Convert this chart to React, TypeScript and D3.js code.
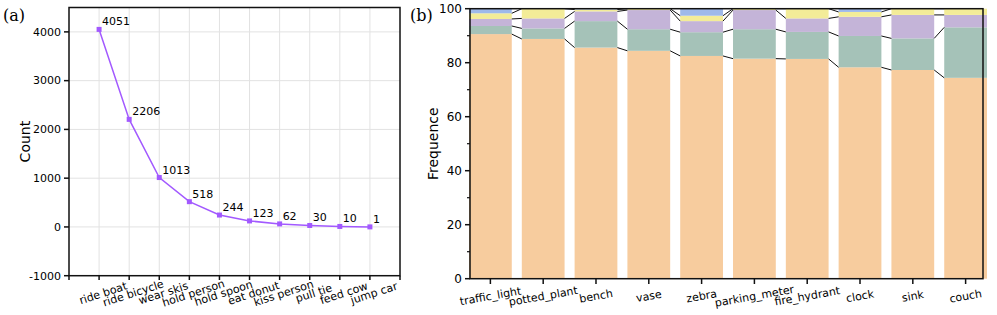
import React from 'react';
import * as d3 from 'd3';

// panel (a)
const actions = ['ride boat', 'ride bicycle', 'wear skis', 'hold person', 'hold spoon', 'eat donut', 'kiss person', 'pull tie', 'feed cow', 'jump car'];
const counts = [4051, 2206, 1013, 518, 244, 123, 62, 30, 10, 1];
const countTicks = [-1000, 0, 1000, 2000, 3000, 4000];

// panel (b)
const objects = ['traffic_light', 'potted_plant', 'bench', 'vase', 'zebra', 'parking_meter', 'fire_hydrant', 'clock', 'sink', 'couch'];
const seg1 = [90.6, 88.8, 85.6, 84.4, 82.5, 81.5, 81.4, 78.3, 77.3, 74.4];
const seg2 = [3.0, 3.9, 9.8, 8.0, 8.8, 10.9, 10.0, 11.6, 11.7, 18.7];
const seg3 = [2.6, 3.7, 3.6, 7.1, 4.1, 7.1, 5.0, 7.1, 8.7, 4.6];
const seg4 = [2.1, 3.6, 0.7, 0.5, 2.0, 0.5, 3.6, 1.8, 2.3, 2.3];
const seg5 = [1.7, 0, 0.3, 0, 2.6, 0, 0, 1.2, 0, 0];
const freqTicks = [0, 20, 40, 60, 80, 100];
const segColors = ['#f7cc9e', '#a5c2b8', '#c4b4d8', '#f3ec98', '#9eb9ea'];

const font = "'Comic Sans MS', 'DejaVu Sans', sans-serif";

export default function App() {
  // ---- panel a ----
  const ax = d3.scaleLinear().domain([-1, 10]).range([69, 400]);
  const ay = d3.scaleLinear().domain([-1000, 4500]).range([275.7, 7.5]);
  const line = d3.line<number>().x((d, i) => ax(i)).y(d => ay(d));

  // ---- panel b ----
  const bx = d3.scaleBand().domain(objects).range([469, 987]).paddingInner(0.19).paddingOuter(0);
  const by = d3.scaleLinear().domain([0, 100]).range([278.7, 8.7]);
  const table = objects.map((o, i) => ({ name: o, s1: seg1[i], s2: seg2[i], s3: seg3[i], s4: seg4[i], s5: seg5[i] }));
  const stack = d3.stack<any>().keys(['s1', 's2', 's3', 's4', 's5'])(table);
  const minor = d3.range(10, 100, 20);

  return (
    <svg width={997} height={315} style={{ position: 'absolute', left: 0, top: 0, background: '#fff' }} fontFamily={font}>
      {/* panel a */}
      <text x={3} y={21} fontFamily="'DejaVu Serif', 'Liberation Serif', serif" fontSize={16}>(a)</text>
      {countTicks.slice(1).map(t => (
        <line key={'gh' + t} x1={69} x2={400} y1={ay(t)} y2={ay(t)} stroke="#e2e2e2" strokeWidth={1} />
      ))}
      {actions.map((a, i) => (
        <line key={'gv' + a} x1={ax(i)} x2={ax(i)} y1={7.5} y2={275.7} stroke="#e2e2e2" strokeWidth={1} />
      ))}
      <rect x={69} y={7.5} width={331} height={268.2} fill="none" stroke="#111" strokeWidth={1.5} />
      {countTicks.map(t => (
        <g key={'yt' + t}>
          <line x1={64} x2={69} y1={ay(t)} y2={ay(t)} stroke="#111" strokeWidth={1.5} />
          <text x={61} y={ay(t)} dy="0.35em" textAnchor="end" fontSize={11}>{t}</text>
        </g>
      ))}
      {d3.range(-1, 11).map(i => (
        <line key={'xt' + i} x1={ax(i)} x2={ax(i)} y1={275.7} y2={280} stroke="#111" strokeWidth={1.5} />
      ))}
      {actions.map((a, i) => (
        <text key={'xl' + a} transform={`translate(${ax(i) + 4},${293}) rotate(-18)`} textAnchor="middle" dy="0.35em" fontSize={11}>{a}</text>
      ))}
      <text transform={`translate(30,${(7.5 + 275.7) / 2}) rotate(-90)`} textAnchor="middle" fontSize={14}>Count</text>
      <path d={line(counts) || ''} fill="none" stroke="#a259ff" strokeWidth={1.5} />
      {counts.map((c, i) => (
        <g key={'pt' + i}>
          <rect x={ax(i) - 2.5} y={ay(c) - 2.5} width={5} height={5} fill="#a259ff" />
          <text x={ax(i) + 3} y={ay(c) - 4} fontSize={11}>{c}</text>
        </g>
      ))}

      {/* panel b */}
      <text x={410} y={21} fontFamily="'DejaVu Serif', 'Liberation Serif', serif" fontSize={16}>(b)</text>
      {stack.map((layer, k) => (
        <g key={'layer' + k} fill={segColors[k]}>
          {layer.map((d, i) => (
            <rect key={i} x={bx(objects[i])} y={by(d[1])} width={bx.bandwidth()} height={Math.max(0, by(d[0]) - by(d[1]))} />
          ))}
        </g>
      ))}
      {stack.slice(0, 4).map((layer, k) => (
        <g key={'conn' + k} stroke="#111" strokeWidth={1}>
          {layer.slice(0, -1).map((d, i) => (
            <line key={i} x1={(bx(objects[i]) || 0) + bx.bandwidth()} y1={by(d[1])} x2={bx(objects[i + 1])} y2={by(layer[i + 1][1])} />
          ))}
        </g>
      ))}
      <rect x={470} y={8.7} width={513} height={270} fill="none" stroke="#111" strokeWidth={1.5} />
      {freqTicks.map(t => (
        <g key={'by' + t}>
          <line x1={465} x2={470} y1={by(t)} y2={by(t)} stroke="#111" strokeWidth={1.5} />
          <text x={462} y={by(t)} dy="0.35em" textAnchor="end" fontSize={12}>{t}</text>
        </g>
      ))}
      {minor.map(t => (
        <line key={'bm' + t} x1={467} x2={470} y1={by(t)} y2={by(t)} stroke="#111" strokeWidth={1.2} />
      ))}
      {objects.map(o => {
        const cx = (bx(o) || 0) + bx.bandwidth() / 2;
        return (
          <g key={'bx' + o}>
            <line x1={cx} x2={cx} y1={278.7} y2={284} stroke="#111" strokeWidth={1.5} />
            <text transform={`translate(${cx},${296}) rotate(-10)`} textAnchor="middle" dy="0.35em" fontSize={11}>{o}</text>
          </g>
        );
      })}
      <text transform={`translate(438,${(8.7 + 278.7) / 2}) rotate(-90)`} textAnchor="middle" fontSize={14}>Frequence</text>
    </svg>
  );
}
